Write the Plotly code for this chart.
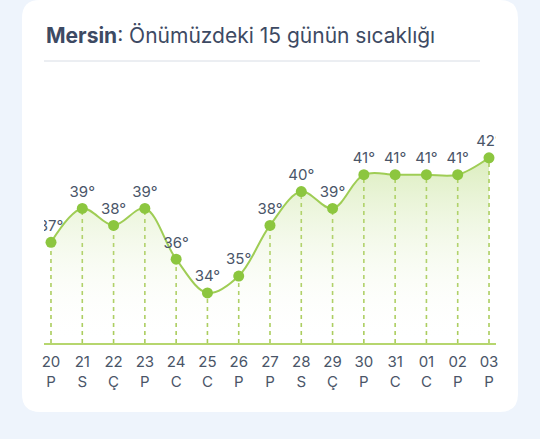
import plotly.graph_objects as go

dates = ["20", "21", "22", "23", "24", "25", "26", "27", "28", "29", "30", "31", "01", "02", "03"]
days = ["P", "S", "Ç", "P", "C", "C", "P", "P", "S", "Ç", "P", "C", "C", "P", "P"]
temps = [37, 39, 38, 39, 36, 34, 35, 38, 40, 39, 41, 41, 41, 41, 42]
city = "Mersin"
subtitle = ": Önümüzdeki 15 günün sıcaklığı"

W, H = 540, 439
L, R, T, B = 44, 496, 100, 343
Y0 = 31.04
YTOP = Y0 + (B - T) / 16.9

def px(X):
    return (X - L) / (R - L)

def py(Y):
    return (B - Y) / (B - T)

idx = list(range(len(temps)))
font = "Inter, Lato, sans-serif"
txt_col = "#4a5568"
green = "#8cc63f"

fig = go.Figure()

# dashed drop lines
dx, dy = [], []
for i, v in zip(idx, temps):
    dx += [i, i, None]
    dy += [Y0, v, None]
fig.add_trace(go.Scatter(x=dx, y=dy, mode="lines",
                         line=dict(color="#a9cc5a", width=1.6, dash="4px,4px"),
                         hoverinfo="skip", showlegend=False))

fig.add_trace(go.Scatter(
    x=idx, y=temps, mode="lines+markers+text",
    line=dict(color="#9fcd55", width=2, shape="spline", smoothing=1),
    marker=dict(color=green, size=11),
    text=[f"{v}°" for v in temps], textposition="top center",
    textfont=dict(family=font, size=15, color=txt_col),
    fill="tozeroy",
    fillgradient=dict(type="vertical", start=Y0, stop=42,
                      colorscale=[[0, "rgba(255,255,255,0)"], [1, "rgba(170,212,100,0.42)"]]),
    cliponaxis=True, showlegend=False, hoverinfo="skip"))

# card shape with rounded corners (paper coords)
cl, cr, cb, rad = 22, 518, 412, 18
def P(X, Y):
    return f"{px(X):.5f},{py(Y):.5f}"
card = (f"M {P(cl, 0 + rad)} Q {P(cl, 0)} {P(cl + rad, 0)} L {P(cr - rad, 0)} Q {P(cr, 0)} {P(cr, rad)} "
        f"L {P(cr, cb - rad)} Q {P(cr, cb)} {P(cr - rad, cb)} "
        f"L {P(cl + rad, cb)} Q {P(cl, cb)} {P(cl, cb - rad)} Z")

fig.update_layout(
    width=W, height=H,
    margin=dict(l=L, r=W - R, t=T, b=H - B, pad=0),
    paper_bgcolor="#eef4fc", plot_bgcolor="rgba(0,0,0,0)",
    shapes=[
        dict(type="path", xref="paper", yref="paper", path=card,
             fillcolor="white", line=dict(width=0), layer="below"),
        dict(type="line", xref="paper", yref="paper", x0=0, x1=px(480), y0=py(61), y1=py(61),
             line=dict(color="#d8dde5", width=1)),
    ],
    annotations=[
        dict(xref="paper", yref="paper", x=0, y=py(35), xanchor="left", yanchor="middle",
             showarrow=False,
             text=f"<b>{city}</b>{subtitle}",
             font=dict(family=font, size=21, color="#3d4a63")),
    ],
    xaxis=dict(range=[-0.224, 14.224], tickmode="array", tickvals=idx,
               ticktext=[f"{d}<br>{w}" for d, w in zip(dates, days)],
               showgrid=False, zeroline=False, showline=True, linecolor="#b6d66e", linewidth=2,
               ticks="", tickfont=dict(family=font, size=15, color=txt_col), ticklabelstandoff=4),
    yaxis=dict(range=[Y0, YTOP], visible=False, showgrid=False, zeroline=False),
)

fig.write_html("out.html")
